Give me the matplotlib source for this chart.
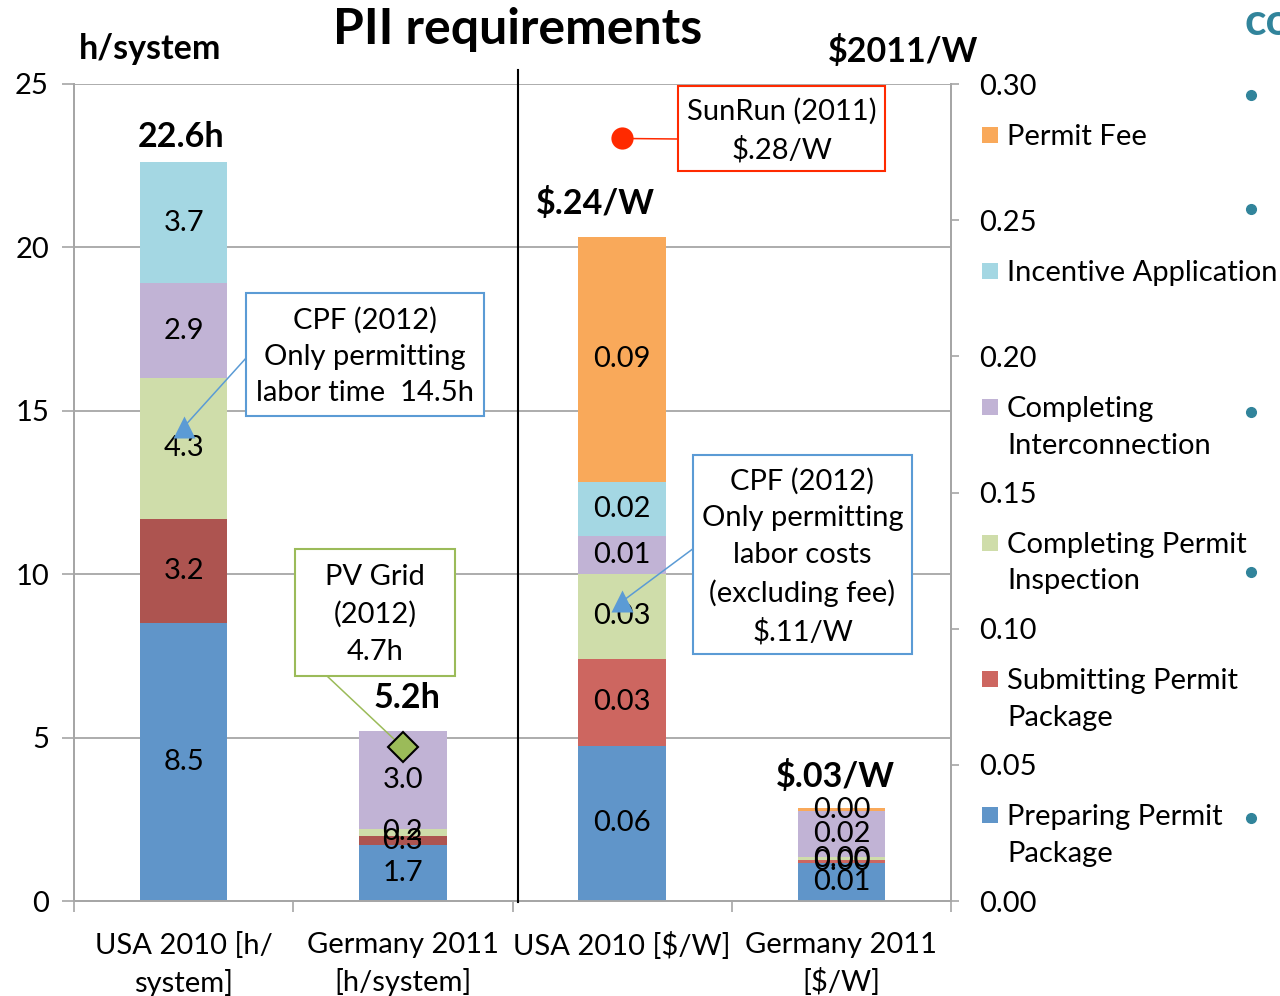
import matplotlib
matplotlib.use("Agg")
import matplotlib.pyplot as plt
from matplotlib.patches import Rectangle
from matplotlib.lines import Line2D

plt.rcParams["font.family"] = ["Lato", "DejaVu Sans"]

# series, bottom to top
SERIES = ["Preparing Permit\nPackage", "Submitting Permit\nPackage",
          "Completing Permit\nInspection", "Completing\nInterconnection",
          "Incentive Application", "Permit Fee"]
COLORS = ["#6095c9", "#cd6660", "#cfddaa", "#c1b3d5", "#a4d7e3", "#f9a95a"]
RED_HOURS = "#ad5450"

CATEGORIES = ["USA 2010 [h/\nsystem]", "Germany 2011\n[h/system]",
              "USA 2010 [\\$/W]", "Germany 2011\n[\\$/W]"]

hours_usa = [8.5, 3.2, 4.3, 2.9, 3.7, 0.0]
hours_de = [1.7, 0.3, 0.2, 3.0, 0.0, 0.0]
cost_usa = [0.057, 0.032, 0.031, 0.014, 0.020, 0.090]
cost_de = [0.014, 0.001, 0.001, 0.017, 0.0, 0.001]

cpf_hours = 14.5
pv_grid_hours = 4.7
cpf_cost = 0.11
sunrun_cost = 0.28

W, H = 1280, 996
FS = 21  # body text size


def px(x, y):
    # pixel (from top-left) -> figure fraction
    return x / W, 1 - y / H


fig = plt.figure(figsize=(W / 100, H / 100), dpi=100)
x0, y0 = px(74, 901)
x1, y1 = px(951, 84)
ax = fig.add_axes([x0, y0, x1 - x0, y1 - y0])
ax2 = ax.twinx()

GRAY = "#a6a6a6"
ax.set_xlim(0, 4)
ax.set_ylim(0, 25)
ax2.set_ylim(0, 0.30)
ax.set_yticks(range(0, 26, 5))
ax2.set_yticks([0, 0.05, 0.10, 0.15, 0.20, 0.25, 0.30])
ax2.set_yticklabels([f"{v:.2f}" for v in ax2.get_yticks()])
ax.yaxis.grid(True, color=GRAY, lw=1.3)
ax.set_axisbelow(True)
for a in (ax, ax2):
    for s in a.spines.values():
        s.set_color(GRAY)
        s.set_linewidth(1.3)
    a.spines["top"].set_visible(False)
ax.tick_params(axis="y", length=9, width=1.2, color=GRAY, labelsize=FS, pad=9)
ax2.tick_params(axis="y", length=6, width=1.2, color=GRAY, labelsize=FS, pad=14)
ax.set_xticks([0, 1, 2, 3, 4])
ax.set_xticklabels([])
ax.tick_params(axis="x", which="major", length=8, width=1.2, color=GRAY)
ax.set_xticks([0.5, 1.5, 2.5, 3.5], minor=True)
ax.set_xticklabels(CATEGORIES, minor=True, fontsize=FS, linespacing=1.45)
ax.tick_params(axis="x", which="minor", length=0, pad=22)

BW = 0.40


def stack(a, xc, vals, red, fmt):
    bottom = 0.0
    for i, v in enumerate(vals):
        if v <= 0:
            continue
        c = red if i == 1 else COLORS[i]
        a.bar(xc, v, BW, bottom=bottom, color=c, edgecolor="none", zorder=2)
        a.text(xc, bottom + v / 2, fmt.format(v), ha="center", va="center",
               fontsize=FS, zorder=3)
        bottom += v
    return bottom


tot = stack(ax, 0.5, hours_usa, RED_HOURS, "{:.1f}")
ax.annotate(f"{tot:.1f}h", (0.5, tot), xytext=(-2, 7), textcoords="offset points",
            ha="center", va="bottom", fontsize=24.5, fontweight="bold")
tot = stack(ax, 1.5, hours_de, RED_HOURS, "{:.1f}")
ax.annotate(f"{tot:.1f}h", (1.5, tot), xytext=(3, 12), textcoords="offset points",
            ha="center", va="bottom", fontsize=24.5, fontweight="bold")
tot = stack(ax2, 2.5, cost_usa, COLORS[1], "{:.2f}")
ax2.annotate("\\$" + f"{tot:.2f}".lstrip("0") + "/W", (2.5, tot), xytext=(-19, 12),
             textcoords="offset points", ha="center", va="bottom",
             fontsize=24.5, fontweight="bold")
tot = stack(ax2, 3.5, cost_de, COLORS[1], "{:.2f}")
ax2.annotate("\\$" + f"{tot:.2f}".lstrip("0") + "/W", (3.5, tot), xytext=(-4, 11),
             textcoords="offset points", ha="center", va="bottom",
             fontsize=24.5, fontweight="bold")

# markers
BLUE_M = "#5b9bd5"
GREEN_M = "#9bbb59"
SUN_RED = "#ff2a00"
ax.plot([0.5], [cpf_hours], marker="^", ms=16, color=BLUE_M, mec="none", zorder=5)
ax.plot([1.5], [pv_grid_hours], marker="D", ms=15, color=GREEN_M, mec="black",
        mew=1.5, zorder=5)
ax2.plot([2.5], [cpf_cost], marker="^", ms=16, color=BLUE_M, mec="none", zorder=5)
ax2.plot([2.5], [sunrun_cost], marker="o", ms=16, color=SUN_RED, mec="none", zorder=5)


def connector(a, xy, end, color):
    a.annotate("", xy=xy, xycoords="data", xytext=px(*end), textcoords="figure fraction",
               arrowprops=dict(arrowstyle="-", color=color, lw=1.1,
                               shrinkA=0, shrinkB=0), zorder=4)


connector(ax, (0.5, cpf_hours), (247, 357), BLUE_M)
connector(ax, (1.5, pv_grid_hours), (327, 676), GREEN_M)
connector(ax2, (2.5, cpf_cost), (694, 548), BLUE_M)
connector(ax2, (2.5, sunrun_cost), (678, 139), SUN_RED)


def box(l, t, r, b, color, text):
    fx0, fy0 = px(l, b)
    fx1, fy1 = px(r, t)
    fig.add_artist(Rectangle((fx0, fy0), fx1 - fx0, fy1 - fy0, transform=fig.transFigure,
                             facecolor="white", edgecolor=color, lw=1.5, zorder=6))
    cx, cy = px((l + r) / 2, (t + b) / 2 + 2)
    fig.text(cx, cy, text, ha="center", va="center", fontsize=FS, linespacing=1.5,
             zorder=7)


box(678, 86, 885, 171, SUN_RED, "SunRun (2011)\n\\$.28/W")
box(246, 293, 484, 416, BLUE_M, "CPF (2012)\nOnly permitting\nlabor time  14.5h")
box(295, 549, 455, 676, GREEN_M, "PV Grid\n(2012)\n4.7h")
box(693, 455, 912, 654, BLUE_M,
    "CPF (2012)\nOnly permitting\nlabor costs\n(excluding fee)\n\\$.11/W")

# separator between hours and cost panels
fig.add_artist(Line2D([518 / W, 518 / W], [1 - 70 / H, 1 - 902 / H],
                      transform=fig.transFigure, color="black", lw=1.5))

# titles
fig.text(*px(518, 30), "PII requirements", ha="center", va="center",
         fontsize=36, fontweight="bold")
fig.text(*px(150, 49), "h/system", ha="center", va="center", fontsize=24.5,
         fontweight="bold")
fig.text(*px(903, 51), "\\$2011/W", ha="center", va="center", fontsize=24.5,
         fontweight="bold")

# legend, top entry first
for k, i in enumerate(range(len(SERIES) - 1, -1, -1)):
    yc = 135 + 136 * k
    sx, sy = px(982, yc + 8)
    fig.add_artist(Rectangle((sx, sy), 16 / W, 16 / H, transform=fig.transFigure,
                             facecolor=COLORS[i], edgecolor="none"))
    fig.text(*px(1007, yc - 11), SERIES[i], ha="left", va="top", fontsize=FS,
             linespacing=1.5)

# cropped slide content at right edge
TEAL = "#31849b"
fig.text(*px(1244, 22), "co", ha="left", va="center", fontsize=32,
         fontweight="bold", color=TEAL)
for yb in [95, 209, 412, 572, 818]:
    fig.add_artist(Line2D([1251 / W], [1 - yb / H], transform=fig.transFigure,
                          marker="o", ms=7, color=TEAL, lw=0))

fig.savefig("out.png", dpi=100)
